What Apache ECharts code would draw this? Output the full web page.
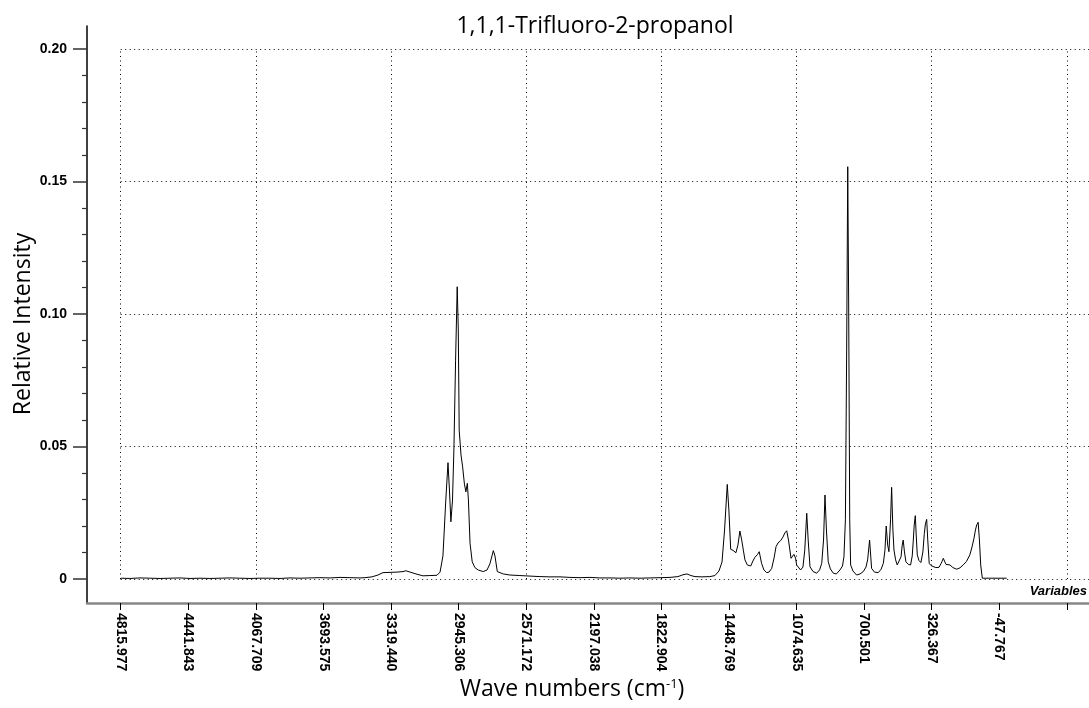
<!DOCTYPE html>
<html>
<head>
<meta charset="utf-8">
<script src="https://cdn.jsdelivr.net/npm/echarts@6/dist/echarts.min.js"></script>
<style>
  html, body { margin: 0; padding: 0; background: #fff; }
  #chart { width: 1089px; height: 708px; }
</style>
</head>
<body>
<div id="chart"></div>
<script>
// ---- data (wave number in cm-1, relative intensity) ----
const waveNumbers = [
  4814, 4765, 4709, 4654, 4598, 4543, 4488, 4432, 4377, 4322,
  4266, 4211, 4156, 4100, 4045, 3990, 3934, 3879, 3823, 3768,
  3713, 3657, 3602, 3547, 3491, 3464, 3425, 3392, 3364, 3325,
  3286, 3253, 3237, 3214, 3181, 3143, 3104, 3065, 3048, 3032,
  3017, 3004, 2996, 2988, 2979, 2971, 2962, 2953, 2947, 2942,
  2932, 2923, 2913, 2905, 2897, 2891, 2882, 2870, 2855, 2837,
  2809, 2788, 2772, 2753, 2744, 2731, 2698, 2661, 2606, 2550,
  2495, 2439, 2384, 2329, 2273, 2218, 2163, 2107, 2052, 1997,
  1941, 1886, 1830, 1775, 1731, 1703, 1681, 1659, 1637, 1598,
  1554, 1526, 1504, 1487, 1473, 1458, 1449, 1439, 1426, 1410,
  1399, 1388, 1378, 1369, 1360, 1347, 1328, 1316, 1305, 1291,
  1281, 1268, 1255, 1240, 1227, 1212, 1199, 1188, 1177, 1162,
  1150, 1139, 1129, 1119, 1105, 1096, 1089, 1080, 1074, 1052,
  1039, 1029, 1018, 1010, 1000, 983, 963, 947, 935, 925,
  917, 909, 899, 887, 871, 854, 834, 820, 812, 804,
  797, 791, 786, 780, 775, 762, 742, 723, 705, 690,
  681, 670, 659, 643, 622, 607, 594, 585, 578, 570,
  563, 554, 548, 541, 535, 526, 517, 506, 496, 490,
  484, 477, 469, 455, 443, 434, 428, 423, 417, 412,
  406, 397, 386, 375, 367, 361, 354, 348, 340, 329,
  318, 303, 286, 273, 262, 253, 247, 236, 225, 209,
  188, 170, 152, 134, 115, 103, 92, 84, 77, 69,
  62, 55, 46, 4, -52, -89
];
const intensities = [
  0.0003, 0.0002, 0.0004, 0.0003, 0.0002, 0.0003, 0.0004, 0.0002, 0.0003, 0.0002,
  0.0003, 0.0004, 0.0003, 0.0002, 0.0003, 0.0003, 0.0002, 0.0004, 0.0003, 0.0004,
  0.0005, 0.0004, 0.0006, 0.0005, 0.0004, 0.0005, 0.0008, 0.0015, 0.0024, 0.0025,
  0.0026, 0.0028, 0.0031, 0.0026, 0.0019, 0.0012, 0.0013, 0.0014, 0.0026, 0.0087,
  0.0287, 0.0439, 0.0336, 0.0216, 0.0298, 0.0499, 0.0826, 0.1103, 0.0940, 0.0562,
  0.0468, 0.0423, 0.0358, 0.0329, 0.0361, 0.0298, 0.0135, 0.0065, 0.0043, 0.0034,
  0.0028, 0.0034, 0.0057, 0.0107, 0.0087, 0.0028, 0.0019, 0.0015, 0.0013, 0.0011,
  0.0009, 0.0008, 0.0008, 0.0006, 0.0005, 0.0006, 0.0004, 0.0004, 0.0003, 0.0004,
  0.0003, 0.0004, 0.0005, 0.0006, 0.0009, 0.0016, 0.0019, 0.0013, 0.0009, 0.0008,
  0.0009, 0.0013, 0.0030, 0.0064, 0.0185, 0.0357, 0.0260, 0.0112, 0.0108, 0.0099,
  0.0128, 0.0181, 0.0147, 0.0109, 0.0072, 0.0053, 0.0049, 0.0068, 0.0082, 0.0092,
  0.0103, 0.0059, 0.0034, 0.0024, 0.0026, 0.0040, 0.0079, 0.0122, 0.0136, 0.0145,
  0.0158, 0.0174, 0.0182, 0.0147, 0.0078, 0.0085, 0.0093, 0.0079, 0.0053, 0.0034,
  0.0045, 0.0109, 0.0248, 0.0147, 0.0046, 0.0028, 0.0022, 0.0034, 0.0059, 0.0147,
  0.0317, 0.0185, 0.0065, 0.0038, 0.0022, 0.0019, 0.0034, 0.0049, 0.0084, 0.0223,
  0.0864, 0.1556, 0.1053, 0.0223, 0.0053, 0.0030, 0.0015, 0.0019, 0.0028, 0.0045,
  0.0072, 0.0147, 0.0040, 0.0026, 0.0024, 0.0036, 0.0059, 0.0109, 0.0200, 0.0128,
  0.0103, 0.0223, 0.0346, 0.0185, 0.0109, 0.0072, 0.0053, 0.0060, 0.0084, 0.0125,
  0.0147, 0.0102, 0.0065, 0.0055, 0.0053, 0.0087, 0.0147, 0.0204, 0.0239, 0.0166,
  0.0091, 0.0070, 0.0062, 0.0102, 0.0172, 0.0208, 0.0225, 0.0147, 0.0059, 0.0050,
  0.0046, 0.0043, 0.0044, 0.0060, 0.0078, 0.0064, 0.0055, 0.0057, 0.0053, 0.0043,
  0.0037, 0.0042, 0.0053, 0.0066, 0.0091, 0.0121, 0.0154, 0.0185, 0.0204, 0.0214,
  0.0147, 0.0053, 0.0003, 0.0003, 0.0003, 0.0003
];

// ---- axis ticks / labels ----
const xTickValues = [4815.977, 4441.843, 4067.709, 3693.575, 3319.440, 2945.306, 2571.172,
  2197.038, 1822.904, 1448.769, 1074.635, 700.501, 326.367, -47.767, -421.901];
const xLabelValues = [4815.977, 4441.843, 4067.709, 3693.575, 3319.440, 2945.306, 2571.172,
  2197.038, 1822.904, 1448.769, 1074.635, 700.501, 326.367, -47.767];
const xGridValues = [4815.977, 4067.709, 3319.440, 2571.172, 1822.904, 1074.635, 326.367, -421.901];
const yTickValues = [0, 0.05, 0.10, 0.15, 0.20];
const yMinorValues = [0.01, 0.02, 0.03, 0.04, 0.06, 0.07, 0.08, 0.09, 0.11, 0.12, 0.13, 0.14,
  0.16, 0.17, 0.18, 0.19];

const X_MIN = -544.6, X_MAX = 5002.5;
const Y_MIN = -0.00906, Y_MAX = 0.2087;

const seriesData = waveNumbers.map((w, i) => [w, intensities[i]]);

const gridLines = [];
xGridValues.forEach(x => gridLines.push([{ coord: [x, 0] }, { coord: [x, 0.2] }]));
yTickValues.forEach(y => gridLines.push([{ coord: [xTickValues[0], y] }, { coord: [X_MIN, y] }]));

const labelFont = { fontFamily: '"Liberation Sans", Arial, sans-serif', fontWeight: 'bold', fontSize: 14, color: '#000' };

const chart = echarts.init(document.getElementById('chart'), null, { renderer: 'canvas' });
chart.setOption({
  animation: false,
  backgroundColor: '#ffffff',
  grid: { left: 87, right: 0, top: 26, bottom: 105, containLabel: false },
  xAxis: [{
    type: 'value', inverse: true, min: X_MIN, max: X_MAX, position: 'bottom',
    axisLine: { show: true, onZero: false, lineStyle: { color: '#888888', width: 2.5 } },
    axisTick: { show: true, inside: false, length: 7, customValues: xTickValues, lineStyle: { color: '#000', width: 1 } },
    axisLabel: Object.assign({ show: true, rotate: -90, margin: 10, customValues: xLabelValues,
      formatter: v => Number(v).toFixed(3) }, labelFont),
    splitLine: { show: false }
  }],
  yAxis: [{
    type: 'value', min: Y_MIN, max: Y_MAX, position: 'left',
    axisLine: { show: true, onZero: false, lineStyle: { color: '#000', width: 1.5 } },
    axisTick: { show: true, inside: false, length: 14, customValues: yTickValues, lineStyle: { color: '#333', width: 1.5 } },
    axisLabel: Object.assign({ show: true, margin: 20, customValues: yTickValues,
      formatter: v => (Math.abs(v) < 1e-9 ? '0' : Number(v).toFixed(2)) }, labelFont),
    splitLine: { show: false }
  }, {
    type: 'value', min: Y_MIN, max: Y_MAX, position: 'left', offset: 0,
    axisLine: { show: false, onZero: false },
    axisTick: { show: true, inside: false, length: 5, customValues: yMinorValues, lineStyle: { color: '#333', width: 1.2 } },
    axisLabel: { show: false },
    splitLine: { show: false }
  }],
  series: [{
    type: 'line',
    xAxisIndex: 0, yAxisIndex: 0,
    data: seriesData,
    showSymbol: false, symbol: 'none',
    lineStyle: { color: '#000', width: 1 },
    z: 3,
    markLine: {
      silent: true, symbol: ['none', 'none'], label: { show: false },
      lineStyle: { color: '#000', width: 1, type: [1, 3.5] },
      emphasis: { disabled: true },
      data: gridLines, z: 1
    }
  }],
  graphic: [
    { type: 'text', x: 595, y: 26, style: { text: '1,1,1-Trifluoro-2-propanol', fill: '#000',
      font: '23px "Open Sans", sans-serif', textAlign: 'center', textVerticalAlign: 'middle' } },
    { type: 'text', x: 23, y: 324, rotation: Math.PI / 2, style: { text: 'Relative Intensity', fill: '#000',
      font: '23px "Open Sans", sans-serif', textAlign: 'center', textVerticalAlign: 'middle' } },
    { type: 'text', x: 572, y: 689, style: { text: 'Wave numbers (cm{sup|-1})', fill: '#000',
      font: '23px "Open Sans", sans-serif', textAlign: 'center', textVerticalAlign: 'middle',
      rich: { sup: { fontSize: 13, fontFamily: '"Open Sans", sans-serif', verticalAlign: 'top', fill: '#000' } } } },
    { type: 'text', x: 1087, y: 591, style: { text: 'Variables', fill: '#000',
      font: 'italic bold 13px "Liberation Sans", Arial, sans-serif', textAlign: 'right', textVerticalAlign: 'middle' } }
  ]
});
</script>
</body>
</html>
